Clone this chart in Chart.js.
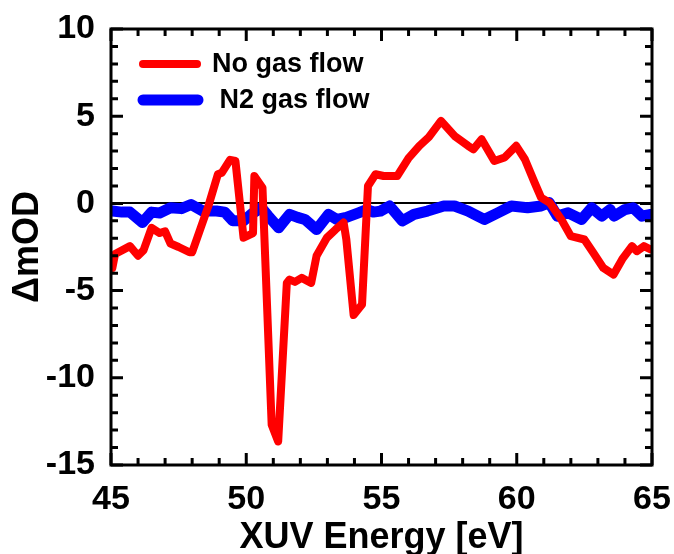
<!DOCTYPE html>
<html>
<head>
<meta charset="utf-8">
<script src="https://cdn.jsdelivr.net/npm/chart.js@4/dist/chart.umd.min.js"></script>
<style>
html,body{margin:0;padding:0;background:#fff;}
canvas{display:block;}
</style>
</head>
<body>
<canvas id="c" width="674" height="554"></canvas>
<script>
// ---- data ----
const redLabel = "No gas flow";
const blueLabel = " N2 gas flow";
const redEnergy = [45.05,45.15,45.7,46.0,46.2,46.5,46.8,47.0,47.2,47.5,47.9,48.0,48.6,48.95,49.1,49.4,49.6,49.9,50.25,50.3,50.6,50.94,51.18,51.5,51.6,51.8,52.05,52.4,52.6,52.98,53.3,53.6,53.7,53.97,54.28,54.5,54.78,55.08,55.58,56.0,56.4,56.75,57.2,57.7,58.2,58.4,58.7,59.17,59.55,59.98,60.3,60.66,60.9,61.22,61.65,62.0,62.5,62.83,63.2,63.58,63.9,64.26,64.44,64.7,64.95];
const redMOD = [-3.7,-2.9,-2.45,-3.0,-2.7,-1.4,-1.7,-1.6,-2.3,-2.5,-2.8,-2.8,-0.15,1.67,1.76,2.5,2.43,-1.97,-1.7,1.57,0.9,-12.7,-13.65,-4.56,-4.37,-4.5,-4.27,-4.56,-3.0,-1.97,-1.5,-1.1,-2.07,-6.4,-5.8,1.0,1.67,1.57,1.57,2.6,3.3,3.8,4.73,3.87,3.3,3.1,3.68,2.43,2.63,3.3,2.53,1.19,0.33,0.04,-0.92,-1.88,-2.07,-2.83,-3.7,-4.08,-3.2,-2.45,-2.74,-2.45,-2.64];
const blueEnergy = [45.05,45.4,45.7,46.16,46.5,46.8,47.2,47.6,47.96,48.4,48.9,49.2,49.5,49.9,50.2,50.56,50.8,51.2,51.6,51.9,52.17,52.6,53.04,53.35,53.7,54.15,54.47,54.7,54.96,55.3,55.77,56.2,56.7,57.3,57.7,58.2,58.56,58.8,59.3,59.8,60.4,60.9,61.2,61.5,61.9,62.4,62.77,63.14,63.45,63.6,64.0,64.3,64.63,64.95];
const blueMOD = [-0.44,-0.5,-0.5,-1.1,-0.5,-0.55,-0.25,-0.3,-0.06,-0.44,-0.44,-0.5,-1.0,-1.0,-0.6,-0.25,-0.7,-1.4,-0.63,-0.8,-0.92,-1.5,-0.63,-0.92,-0.8,-0.54,-0.35,-0.5,-0.44,-0.15,-1.0,-0.63,-0.44,-0.15,-0.15,-0.44,-0.73,-0.92,-0.54,-0.15,-0.25,-0.15,0.04,-0.73,-0.54,-0.92,-0.25,-0.73,-0.35,-0.73,-0.35,-0.25,-0.73,-0.63];
const xTickValues = [45,50,55,60,65];
const yTickValues = [-15,-10,-5,0,5,10];
const xTitle = "XUV Energy [eV]";
const yTitle = "\u0394mOD";

const FONT = "'Liberation Sans', Arial, sans-serif";

function pts(xs, ys){ return xs.map((x,i)=>({x:x, y:ys[i]})); }

const framePlugin = {
  id:'frame',
  afterDraw(chart){
    const {ctx, chartArea:a, scales:{x, y}} = chart;
    ctx.save();
    ctx.strokeStyle = '#000';
    ctx.lineWidth = 3;
    ctx.lineCap = 'butt';
    for (let v = 45; v <= 65; v += 1){
      const px = x.getPixelForValue(v);
      const len = (v % 5 === 0) ? 12 : 7;
      ctx.beginPath();
      ctx.moveTo(px, a.bottom); ctx.lineTo(px, a.bottom - len);
      ctx.moveTo(px, a.top); ctx.lineTo(px, a.top + len);
      ctx.stroke();
    }
    for (let v = -15; v <= 10; v += 1){
      const py = y.getPixelForValue(v);
      const len = (v % 5 === 0) ? 12 : 7;
      ctx.beginPath();
      ctx.moveTo(a.left, py); ctx.lineTo(a.left + len, py);
      ctx.moveTo(a.right, py); ctx.lineTo(a.right - len, py);
      ctx.stroke();
    }
    ctx.strokeRect(a.left, a.top, a.right - a.left, a.bottom - a.top);
    // legend
    const ds = chart.data.datasets;
    const rows = [
      {y:64, x1:143, x2:197, tx:212, ty:72},
      {y:100, x1:143, x2:198, tx:212, ty:108}
    ];
    ctx.font = "bold 27px " + FONT;
    ctx.textBaseline = 'alphabetic';
    ctx.textAlign = 'left';
    ds.forEach((d,i)=>{
      const r = rows[i];
      ctx.strokeStyle = d.borderColor;
      ctx.lineWidth = d.borderWidth;
      ctx.lineCap = 'round';
      ctx.beginPath(); ctx.moveTo(r.x1, r.y); ctx.lineTo(r.x2, r.y); ctx.stroke();
      ctx.fillStyle = '#000';
      ctx.fillText(d.label, r.tx, r.ty);
    });
    ctx.restore();
  }
};

new Chart(document.getElementById('c'), {
  type:'line',
  data:{
    datasets:[
      {label:redLabel, data:pts(redEnergy, redMOD), borderColor:'#ff0000', borderWidth:8, pointRadius:0, tension:0, borderJoinStyle:'round', borderCapStyle:'round', fill:false},
      {label:blueLabel, data:pts(blueEnergy, blueMOD), borderColor:'#0000ff', borderWidth:11, pointRadius:0, tension:0, borderJoinStyle:'round', borderCapStyle:'round', fill:false}
    ]
  },
  options:{
    responsive:false,
    devicePixelRatio:1,
    animation:false,
    layout:{padding:{top:29, right:22, left:0, bottom:0}},
    plugins:{legend:{display:false}, tooltip:{enabled:false}},
    scales:{
      x:{
        type:'linear', min:45, max:65,
        afterBuildTicks(s){ s.ticks = xTickValues.map(v=>({value:v})); },
        afterFit(s){ s.height = 89; s.paddingLeft = 0; s.paddingRight = 0; },
        grid:{display:false, drawTicks:false},
        border:{display:false},
        ticks:{color:'#000', font:{family:FONT, size:34, weight:'bold'}, padding:14, maxRotation:0, autoSkip:false},
        title:{display:true, text:xTitle, color:'#000', font:{family:FONT, size:36, weight:'bold'}, padding:{top:0, bottom:-6}}
      },
      y:{
        type:'linear', min:-15, max:10,
        afterBuildTicks(s){ s.ticks = yTickValues.map(v=>({value:v})); },
        afterFit(s){ s.width = 111; s.paddingTop = 0; s.paddingBottom = 0; },
        grid:{drawTicks:false, lineWidth:2, color:(c)=> (c.tick && c.tick.value === 0) ? '#000' : 'rgba(0,0,0,0)'},
        border:{display:false},
        ticks:{color:'#000', font:{family:FONT, size:34, weight:'bold'}, padding:16, autoSkip:false},
        title:{display:true, text:yTitle, color:'#000', font:{family:FONT, size:36, weight:'bold'}, padding:{top:6, bottom:0}}
      }
    }
  },
  plugins:[framePlugin]
});
</script>
</body>
</html>
